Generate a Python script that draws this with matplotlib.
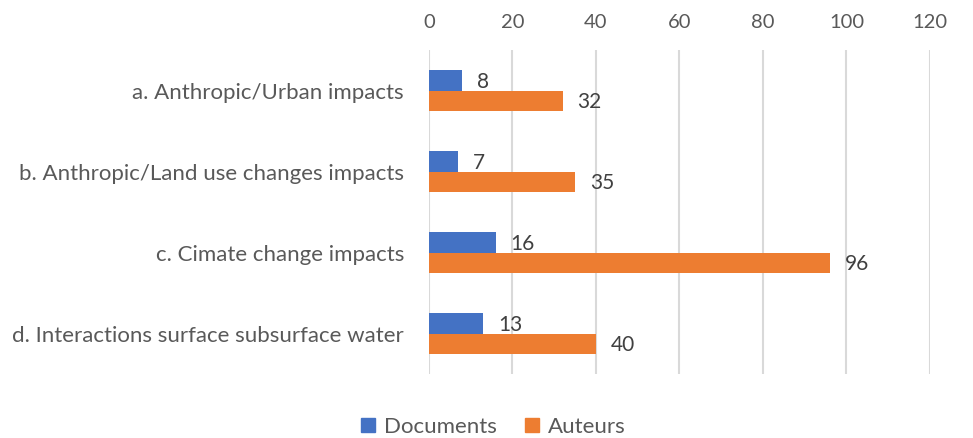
import numpy as np
import matplotlib.pyplot as plt
from matplotlib.patches import Patch

# --- Dados ---
categorias = [
    "a. Anthropic/Urban impacts",
    "b. Anthropic/Land use changes impacts",
    "c. Cimate change impacts",
    "d. Interactions surface subsurface water",
]
documents = [8, 7, 16, 13]
auteurs = [32, 35, 96, 40]
xticks = [0, 20, 40, 60, 80, 100, 120]

AZUL = "#4472C4"
LARANJA = "#ED7D31"
CINZA_TXT = "#595959"

plt.rcParams['font.family'] = ['Lato', 'DejaVu Sans']

fig = plt.figure(figsize=(9.73, 4.38), dpi=100)
ax = fig.add_axes([0.4409, 0.1461, 0.5149, 0.7397])

y = np.arange(len(categorias))
h = 0.25
ax.barh(y - h / 2, documents, height=h, color=AZUL, zorder=3)
ax.barh(y + h / 2, auteurs, height=h, color=LARANJA, zorder=3)

# rótulos de valor
for yi, v in zip(y, documents):
    ax.text(v + 3.5, yi - h / 2 + 0.02, str(v), va='center', ha='left',
            fontsize=15, color="#404040")
for yi, v in zip(y, auteurs):
    ax.text(v + 3.5, yi + h / 2 + 0.02, str(v), va='center', ha='left',
            fontsize=15, color="#404040")

ax.set_xlim(0, 120)
ax.set_ylim(len(categorias) - 0.5, -0.5)
ax.set_xticks(xticks)
ax.xaxis.tick_top()
ax.tick_params(axis='x', length=0, pad=14, labelsize=14.5, labelcolor=CINZA_TXT)
ax.set_yticks(y)
ax.set_yticklabels(categorias)
ax.tick_params(axis='y', length=0, pad=18, labelsize=16, labelcolor=CINZA_TXT)
ax.grid(axis='x', color="#D9D9D9", linewidth=1.5, zorder=0)
for s in ax.spines.values():
    s.set_visible(False)

handles = [Patch(color=AZUL, label="Documents"), Patch(color=LARANJA, label="Auteurs")]
leg = fig.legend(handles=handles, loc='center', bbox_to_anchor=(0.507, 0.025), ncol=2,
                 frameon=False, fontsize=16, handlelength=0.6, handleheight=0.6,
                 handletextpad=0.4, columnspacing=1.3)
for t in leg.get_texts():
    t.set_color(CINZA_TXT)

fig.savefig("out.png", dpi=100)
